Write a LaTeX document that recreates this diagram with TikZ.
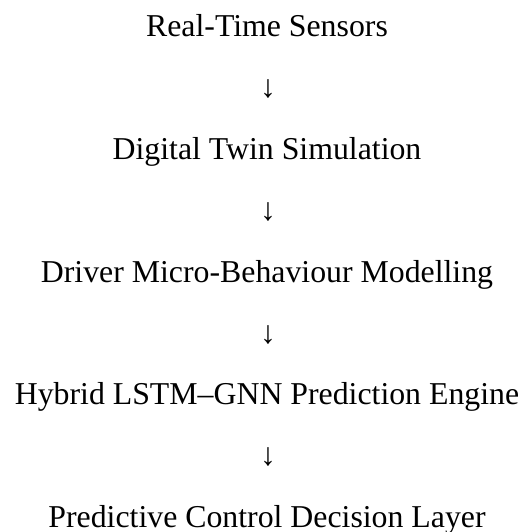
\documentclass[tikz,border=0pt]{standalone}
\usepackage{fontspec}
\setmainfont{Liberation Serif}
\begin{document}
\begin{tikzpicture}[x=1pt,y=-1pt,
  label/.style={inner sep=0pt,anchor=base,font=\fontsize{31.8}{36}\selectfont},
  arrowglyph/.style={inner sep=0pt,anchor=center,font=\fontsize{31.8}{36}\selectfont}]
\useasboundingbox (0,0) rectangle (523,532);
\node[label] (a) at (267,37) {Real-Time Sensors};
\node[arrowglyph] (a1) at (268,89.5) {↓};
\node[label] (b) at (267,159) {Digital Twin Simulation};
\node[arrowglyph] (a2) at (268,212) {↓};
\node[label] (c) at (267,282) {Driver Micro-Behaviour Modelling};
\node[arrowglyph] (a3) at (268,335) {↓};
\node[label] (d) at (267,404) {Hybrid LSTM–GNN Prediction Engine};
\node[arrowglyph] (a4) at (268,457.5) {↓};
\node[label] (e) at (267,527) {Predictive Control Decision Layer};
\end{tikzpicture}
\end{document}
